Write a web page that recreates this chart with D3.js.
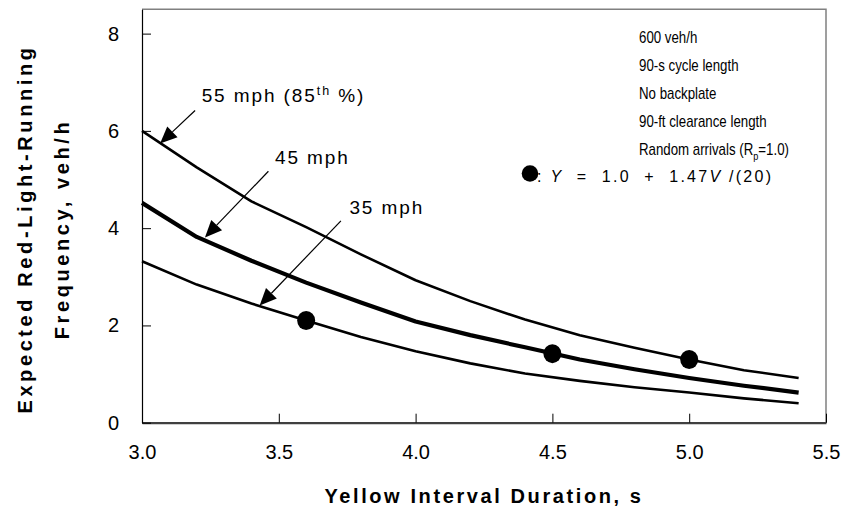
<!DOCTYPE html>
<html>
<head>
<meta charset="utf-8">
<script src="https://cdn.jsdelivr.net/npm/d3@7"></script>
<style>
  body { margin: 0; background: #fff; }
  svg { display: block; font-family: "Liberation Sans", Arial, sans-serif; }
</style>
</head>
<body>
<div id="chart"></div>
<script>
const yellow = [3.0, 3.2, 3.4, 3.6, 3.8, 4.0, 4.2, 4.4, 4.6, 4.8, 5.0, 5.2, 5.4];
const mph55 = [6.0, 5.25, 4.55, 4.02, 3.46, 2.93, 2.50, 2.12, 1.80, 1.54, 1.30, 1.08, 0.92];
const mph45 = [4.52, 3.82, 3.33, 2.88, 2.47, 2.08, 1.80, 1.55, 1.30, 1.10, 0.92, 0.76, 0.62];
const mph35 = [3.32, 2.84, 2.45, 2.10, 1.76, 1.47, 1.22, 1.01, 0.86, 0.73, 0.62, 0.50, 0.40];

const dotX = [3.6, 4.5, 5.0];
const dotY = [2.1, 1.42, 1.30];

const xTicks = [3.0, 3.5, 4.0, 4.5, 5.0, 5.5];
const yTicks = [0, 2, 4, 6, 8];

const notes = ["600 veh/h", "90-s cycle length", "No backplate", "90-ft clearance length"];

const width = 846, height = 527;
const margin = {top: 9.3, right: 20, bottom: 104.3, left: 142};

const svg = d3.select("#chart").append("svg")
    .attr("width", width)
    .attr("height", height);

const x = d3.scaleLinear().domain([3.0, 5.5]).range([margin.left, width - margin.right]);
const y = d3.scaleLinear().domain([0, 8.5]).range([height - margin.bottom, margin.top]);

// frame: top/right grey, left/bottom as axes
svg.append("path")
    .attr("d", `M${x(3.0)},${y(8.5)} H${x(5.5)} V${y(0)}`)
    .attr("fill", "none")
    .attr("stroke", "#808080")
    .attr("stroke-width", 1.5);

const xAxis = svg.append("g")
    .attr("transform", `translate(0,${y(0)})`)
    .call(d3.axisBottom(x).tickValues(xTicks).tickSizeInner(-9).tickSizeOuter(0).tickFormat(d3.format(".1f")));
xAxis.select(".domain").attr("stroke", "#404040").attr("stroke-width", 2.2);
xAxis.selectAll(".tick line").attr("stroke", "#000");
xAxis.selectAll(".tick text")
    .attr("y", 22)
    .attr("font-size", 20)
    .attr("fill", "#000");

const yAxis = svg.append("g")
    .attr("transform", `translate(${x(3.0)},0)`)
    .call(d3.axisLeft(y).tickValues(yTicks).tickSizeInner(-9).tickSizeOuter(0));
yAxis.select(".domain").attr("stroke", "#000").attr("stroke-width", 1.2);
yAxis.selectAll(".tick line").attr("stroke", "#000");
yAxis.selectAll(".tick text")
    .attr("x", -23)
    .attr("font-size", 20)
    .attr("fill", "#000");

const line = d3.line().x((d, i) => x(yellow[i])).y(d => y(d));

[[mph55, 2.6], [mph45, 4.2], [mph35, 2.6]].forEach(([vals, w]) => {
    svg.append("path")
        .attr("d", line(vals))
        .attr("fill", "none")
        .attr("stroke", "#000")
        .attr("stroke-width", w)
        .attr("stroke-linejoin", "round");
});

svg.selectAll(".dot")
    .data(dotX)
    .join("ellipse")
    .attr("cx", d => x(d))
    .attr("cy", (d, i) => y(dotY[i]))
    .attr("rx", 9)
    .attr("ry", 9.5)
    .attr("fill", "#000");

// arrows (data coordinates: start -> tip)
const arrows = [
    [[3.194, 6.42], [3.066, 5.74]],
    [[3.462, 5.17], [3.23, 3.81]],
    [[3.727, 4.15], [3.43, 2.41]]
];
arrows.forEach(([s, t]) => {
    const x1 = x(s[0]), y1 = y(s[1]), x2 = x(t[0]), y2 = y(t[1]);
    const a = Math.atan2(y2 - y1, x2 - x1);
    const len = 17, half = 7.5;
    const bx = x2 - len * Math.cos(a), by = y2 - len * Math.sin(a);
    svg.append("line")
        .attr("x1", x1).attr("y1", y1)
        .attr("x2", bx).attr("y2", by)
        .attr("stroke", "#000")
        .attr("stroke-width", 1.2);
    svg.append("polygon")
        .attr("points", [
            [x2, y2],
            [bx + half * Math.sin(a), by - half * Math.cos(a)],
            [bx - half * Math.sin(a), by + half * Math.cos(a)]
        ].map(p => p.join(",")).join(" "))
        .attr("fill", "#000");
});

const lab55 = svg.append("text")
    .attr("x", x(3.218)).attr("y", y(6.6))
    .attr("font-size", 19).attr("letter-spacing", 1.9);
lab55.append("tspan").text("55 mph (85");
lab55.append("tspan").text("th").attr("font-size", 12.5).attr("dy", -7);
lab55.append("tspan").text(" %)").attr("dy", 7);

svg.append("text")
    .attr("x", x(3.486)).attr("y", y(5.31))
    .attr("font-size", 19).attr("letter-spacing", 1.9)
    .text("45 mph");

svg.append("text")
    .attr("x", x(3.758)).attr("y", y(4.30))
    .attr("font-size", 19).attr("letter-spacing", 1.9)
    .text("35 mph");

// condition notes (slightly condensed face)
const noteG = svg.append("g").attr("transform", "translate(639,0) scale(0.83,1)");
notes.forEach((t, i) => {
    noteG.append("text")
        .attr("x", 0).attr("y", 43.3 + i * 27.9)
        .attr("font-size", 16)
        .text(t);
});
const rnd = noteG.append("text")
    .attr("x", 0).attr("y", 155)
    .attr("font-size", 16);
rnd.append("tspan").text("Random arrivals (R");
rnd.append("tspan").text("p").attr("font-size", 11).attr("dy", 5);
rnd.append("tspan").text("=1.0)").attr("dy", -5);

svg.append("circle")
    .attr("cx", 530).attr("cy", 173.5).attr("r", 8.3)
    .attr("fill", "#000");
const eq = svg.append("text")
    .attr("x", 537).attr("y", 181.7)
    .attr("font-size", 16)
    .style("white-space", "pre");
eq.append("tspan").text(": ");
eq.append("tspan").text("Y").attr("font-style", "italic");
eq.append("tspan").text("  =  1.0  +  1.47");
eq.append("tspan").text("V").attr("font-style", "italic");
eq.append("tspan").text(" /(20)");
eq.attr("textLength", 234);

// axis titles
svg.append("text")
    .attr("x", x(4.25)).attr("y", 503)
    .attr("text-anchor", "middle")
    .attr("font-size", 20).attr("font-weight", "bold").attr("letter-spacing", 2.6)
    .text("Yellow Interval Duration, s");

const yt = svg.append("text")
    .attr("transform", "translate(0,229) rotate(-90)")
    .attr("text-anchor", "middle")
    .attr("font-size", 20).attr("font-weight", "bold").attr("letter-spacing", 3.6);
yt.append("tspan").attr("x", 0).attr("y", 32).text("Expected Red-Light-Running");
yt.append("tspan").attr("x", 0).attr("y", 69).text("Frequency, veh/h");
</script>
</body>
</html>
